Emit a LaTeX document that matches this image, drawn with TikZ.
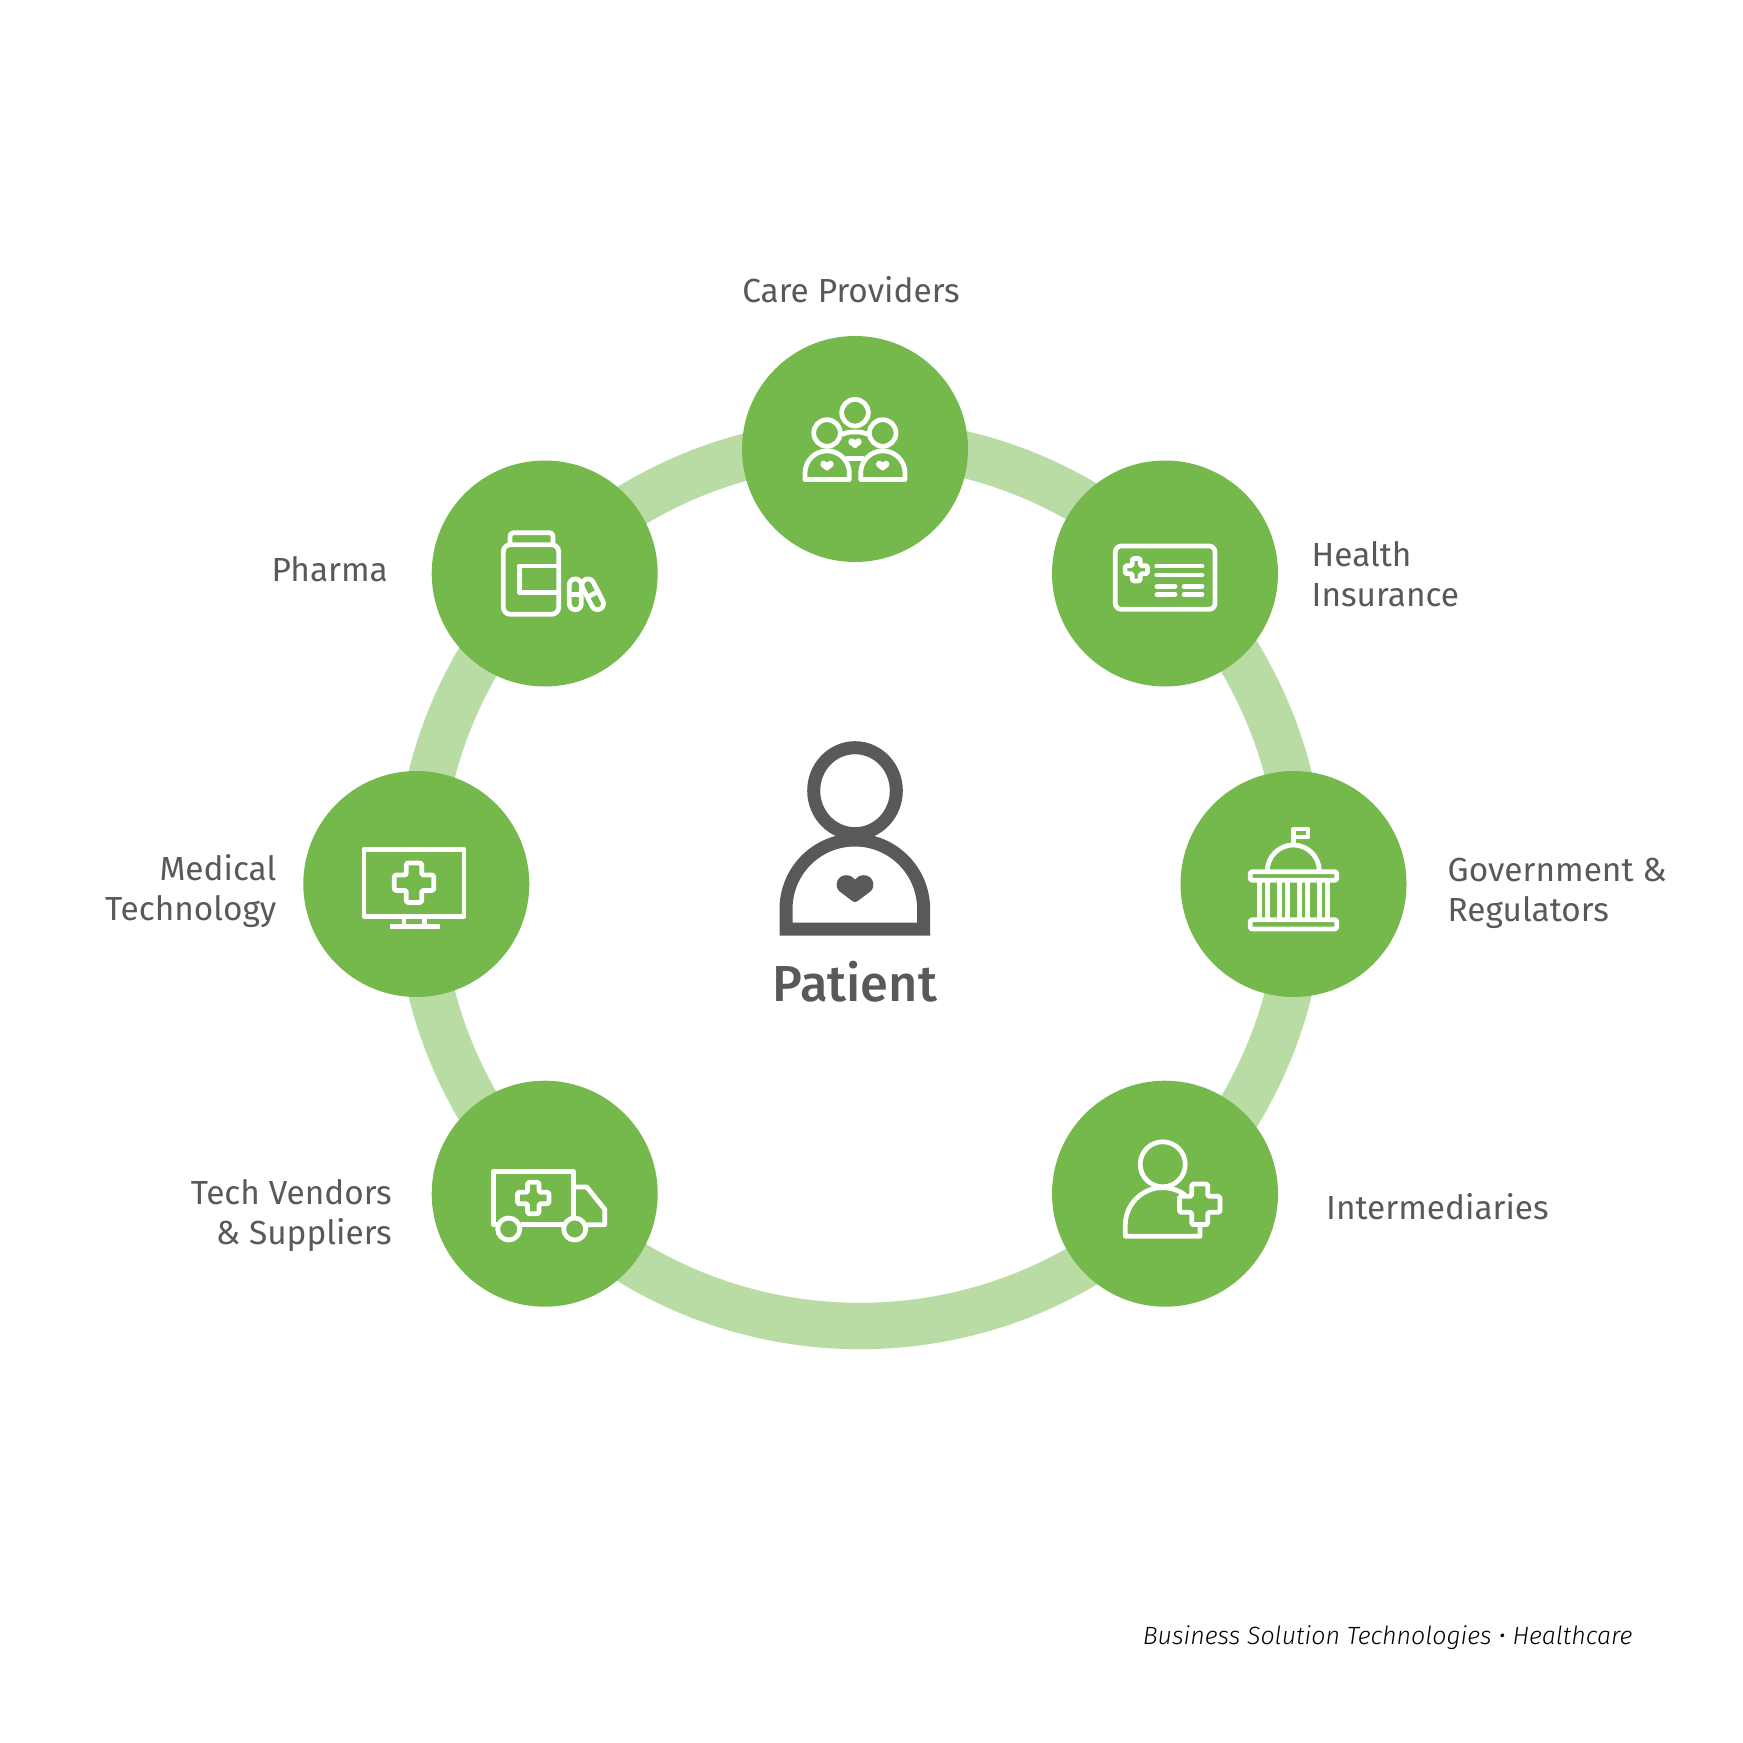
\documentclass[tikz,border=0pt]{standalone}
\usepackage{fontspec}
\setmainfont{Fira Sans}
\newfontfamily\patientfont{Fira Sans Medium}
\newfontfamily\creditfont{Fira Sans Light Italic}
\definecolor{ringgreen}{HTML}{B9DCA5}
\definecolor{discgreen}{HTML}{75B84C}
\definecolor{textgray}{HTML}{58595B}

\begin{document}
\begin{tikzpicture}[x=0.1mm,y=-0.1mm]
	\tikzset{%
		disc/.style={circle,fill=discgreen,minimum size=2.26cm,inner sep=0pt},
		lbl/.style={font=\fontsize{9.5}{11.38}\selectfont,text=textgray,inner sep=0pt},
		iconline/.style={draw=white,line width=1.35pt,line join=round},
		patientline/.style={draw=textgray,line width=3.7pt},
	}

	\newcommand*{\mycross}[3]{%
	\draw [iconline,shift={(#1)},rounded corners=0.4pt] (-#3,-#2) -- (#3,-#2) -- (#3,-#3) -- (#2,-#3) -- (#2,#3) -- (#3,#3) -- (#3,#2) -- (-#3,#2) -- (-#3,#3) -- (-#2,#3) -- (-#2,-#3) -- (-#3,-#3) -- cycle;
	}
	\newcommand*{\myheart}[4]{%
	\fill [#4,shift={(#1)},xscale=#2,yscale=#3] (-0.07,0.46) -- (-0.43,0.1) .. controls (-0.58,-0.06) and (-0.52,-0.5) .. (-0.24,-0.5) .. controls (-0.14,-0.5) and (-0.05,-0.43) .. (0,-0.34) .. controls (0.05,-0.43) and (0.14,-0.5) .. (0.24,-0.5) .. controls (0.52,-0.5) and (0.58,-0.06) .. (0.43,0.1) -- (0.07,0.46) .. controls (0.03,0.51) and (-0.03,0.51) .. (-0.07,0.46) -- cycle;
	}

	\useasboundingbox (0,0) rectangle (1743,1743);

	\draw [ringgreen,line width=13.2pt] (860,884) circle [radius=442];

	\node [disc] (care) at (855,449) {};
	\node [disc] (insurance) at (1165,573.5) {};
	\node [disc] (gov) at (1293.5,884) {};
	\node [disc] (inter) at (1165,1193.7) {};
	\node [disc] (vendors) at (544.7,1193.7) {};
	\node [disc] (medtech) at (416.3,884) {};
	\node [disc] (pharma) at (544.7,573.5) {};

	\node [lbl,anchor=base] (carelbl) at (851,303) {Care Providers};
	\node [lbl,anchor=west,align=left] (insurancelbl) at (1311,574) {Health\\Insurance};
	\node [lbl,anchor=west,align=left] (govlbl) at (1447,893.5) {Government \&\\Regulators};
	\node [lbl,anchor=base west] (interlbl) at (1325.5,1219.5) {Intermediaries};
	\node [lbl,anchor=east,align=right] (vendorslbl) at (392.5,1215.5) {Tech Vendors\\\& Suppliers};
	\node [lbl,anchor=east,align=right] (medtechlbl) at (277,891.5) {Medical\\Technology};
	\node [lbl,anchor=base east] (pharmalbl) at (388.5,581.5) {Pharma};

	% patient
	\draw [patientline] (855,790.7) ellipse [x radius=41.3,y radius=43];
	\draw [patientline] (786,929) -- (786,909) arc (180:360:68.8 and 69) -- (923.7,929) -- cycle;
	\myheart{855,888.7}{36}{27}{textgray}
	\node [anchor=base,text=textgray,font=\patientfont\fontsize{14.4}{16}\selectfont,inner sep=0pt] (patient) at (855,1001) {Patient};

	% care providers
	\draw [iconline] (855,412.7) circle [radius=13.3];
	\draw [iconline] (827,433) circle [radius=13.3];
	\draw [iconline] (882.7,433) circle [radius=13.3];
	\draw [iconline] (805,479.5) -- (805,473) arc (180:360:22.15) -- (849.3,479.5) -- cycle;
	\draw [iconline] (860.7,479.5) -- (860.7,473) arc (180:360:22.15) -- (905,479.5) -- cycle;
	\draw [iconline] (842,434.5) .. controls (848,431) and (862,431) .. (868,434.5);
	\draw [iconline] (846,458.5) -- (864,458.5);
	\myheart{827,465.7}{13}{10}{white}
	\myheart{855,443.3}{13}{10}{white}
	\myheart{882.7,465.7}{13}{10}{white}

	% health insurance
	\draw [iconline,rounded corners=1.7pt] (1115.3,546) rectangle (1215,609.3);
	\mycross{1136.3,569.7}{11.2}{4}
	\draw [iconline,line cap=round] (1156.7,566) -- (1202,566);
	\draw [iconline,line cap=round] (1156.7,575) -- (1202,575);
	\foreach \ln in {586.7,594.7} {
		\draw [iconline,line cap=round] (1157,\ln) -- (1175,\ln);
		\draw [iconline,line cap=round] (1184,\ln) -- (1202,\ln);
	}

	% government
	\draw [iconline,rounded corners=0.4pt] (1250.3,871.7) rectangle (1336.7,880.3);
	\draw [iconline,rounded corners=0.4pt] (1250.3,919.7) rectangle (1336.7,929);
	\draw [iconline] (1267.3,871) arc (180:360:26);
	\draw [iconline] (1293.5,845) -- (1293.5,829) -- (1308,829) -- (1308,837) -- (1293.5,837);
	\foreach \cx in {1259.3,1267.7,1279.3,1287.7,1299.3,1307.5,1319.3,1327.5} {
		\draw [iconline] (\cx,881) -- (\cx,919);
	}

	% intermediaries
	\draw [iconline] (1162.7,1164.3) circle [radius=22.5];
	\draw [iconline] (1200,1225) -- (1200,1236.3) -- (1125.3,1236.3) -- (1125.3,1225) arc (180:307:37.4);
	\mycross{1199.7,1204.3}{20.3}{8}

	% tech vendors
	\draw [iconline] (498,1224.7) -- (493.3,1224.7) -- (493.3,1171.3) -- (573.3,1171.3) -- (573.3,1218);
	\draw [iconline] (521,1224.7) -- (563,1224.7);
	\draw [iconline] (573.3,1187) -- (586.7,1187) -- (604.7,1209.3) -- (604.7,1224.7) -- (587,1224.7);
	\draw [iconline] (508.7,1229) circle [radius=11];
	\draw [iconline] (574.7,1229) circle [radius=11];
	\mycross{533.3,1198}{15.7}{5.7}

	% medical technology
	\draw [iconline] (364,849.3) rectangle (464,916.3);
	\mycross{414,882.7}{19.7}{7.7}
	\draw [iconline] (404,917) -- (404,926) (424.7,917) -- (424.7,926);
	\draw [iconline] (390,926.7) -- (440,926.7);

	% pharma
	\draw [iconline,rounded corners=2pt] (503.3,544.7) rectangle (558.7,614.3);
	\draw [iconline,rounded corners=1pt] (510,544) -- (510,532.7) -- (553,532.7) -- (553,544);
	\draw [iconline] (558.7,566) -- (519.3,566) -- (519.3,592.7) -- (558.7,592.7);
	\draw [iconline,shift={(575.3,594.3)},rounded corners=1.7pt] (-6,-15.4) rectangle (6,15.4);
	\draw [iconline,shift={(575.3,594.3)}] (-6,0) -- (6,0);
	\draw [iconline,shift={(592.7,594.3)},rotate=27,rounded corners=1.7pt] (-6,-16.5) rectangle (6,16.5);
	\draw [iconline,shift={(592.7,594.3)},rotate=27] (-6,0) -- (6,0);

	\node [anchor=base east,inner sep=0pt,font=\creditfont\fontsize{7.1}{9}\selectfont] (credit) at (1633,1644) {Business Solution Technologies • Healthcare};
\end{tikzpicture}
\end{document}
